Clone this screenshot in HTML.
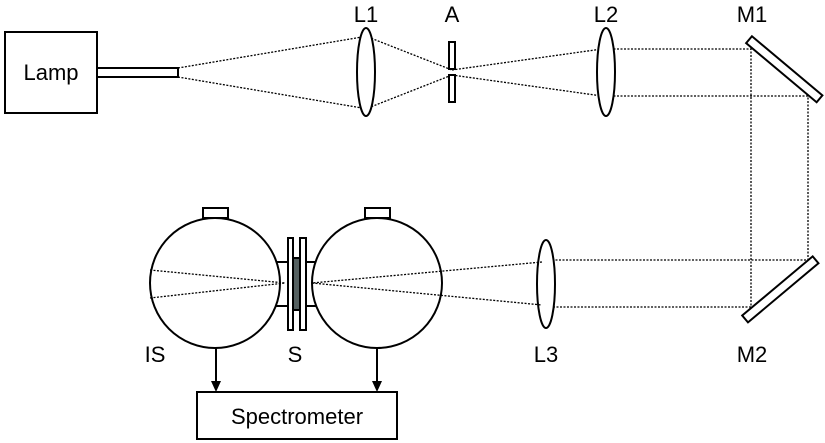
<!DOCTYPE html>
<html><head><meta charset="utf-8"><style>body{margin:0;background:#fff}svg{display:block}text{font-family:"Liberation Sans",sans-serif;font-size:22px;fill:#000}</style></head><body>
<svg width="825" height="443" viewBox="0 0 825 443">
<g fill="none" stroke="#000" stroke-width="1.3" stroke-dasharray="2,1.5">
<path d="M178 68 L362 37 M178 77 L362 108 M368 37 L452 70 M368 108 L452 75 M452 70 L602 49 M452 75 L602 96"/>
<path d="M610 49 H751 V307 M610 96 H808 V260 H552 M751 307 H552"/>
</g>
<g fill="#fff" stroke="#000" stroke-width="2">
<rect x="5" y="32" width="92" height="81"/>
<rect x="97" y="68" width="81" height="9"/>
<ellipse cx="366" cy="72" rx="9" ry="44"/>
<rect x="449" y="42" width="6" height="27"/>
<rect x="449" y="75" width="6" height="27"/>
<ellipse cx="606" cy="72" rx="9" ry="44"/>
<ellipse cx="546" cy="284" rx="9" ry="44"/>
<rect x="740" y="61" width="92" height="9" transform="rotate(40 780 65)" />
<rect x="734" y="285" width="92" height="9" transform="rotate(-40 780 289)"/>
<rect x="203" y="208" width="25" height="10"/>
<rect x="365" y="208" width="25" height="10"/>
<rect x="270" y="262" width="52" height="44"/>
<circle cx="215" cy="283" r="65"/>
<circle cx="377" cy="283" r="65"/>
</g>
<g fill="none" stroke="#000" stroke-width="1.3" stroke-dasharray="2,1.5">
<path d="M150 270 L285 283 M150 298 L285 283 M542 262 L312 283 L542 305"/>
</g>
<g stroke="#000" stroke-width="2">
<rect x="288" y="238" width="5" height="92" fill="#fff"/>
<rect x="300" y="238" width="6" height="92" fill="#fff"/>
<rect x="293" y="258" width="7" height="52" fill="#556060"/>
<rect x="197" y="392" width="200" height="47" fill="#fff"/>
<path d="M216 348 V385 M377 348 V385" fill="none"/>
</g>
<path d="M211 381 L216 392 L221 381 Z M372 381 L377 392 L382 381 Z" fill="#000"/>
<text x="51" y="80" text-anchor="middle">Lamp</text>
<text x="366" y="22" text-anchor="middle">L1</text>
<text x="452" y="22" text-anchor="middle">A</text>
<text x="606" y="22" text-anchor="middle">L2</text>
<text x="752" y="22" text-anchor="middle">M1</text>
<text x="752" y="362" text-anchor="middle">M2</text>
<text x="546" y="362" text-anchor="middle">L3</text>
<text x="155" y="362" text-anchor="middle">IS</text>
<text x="295" y="362" text-anchor="middle">S</text>
<text x="297" y="424" text-anchor="middle">Spectrometer</text>
</svg>
</body></html>
